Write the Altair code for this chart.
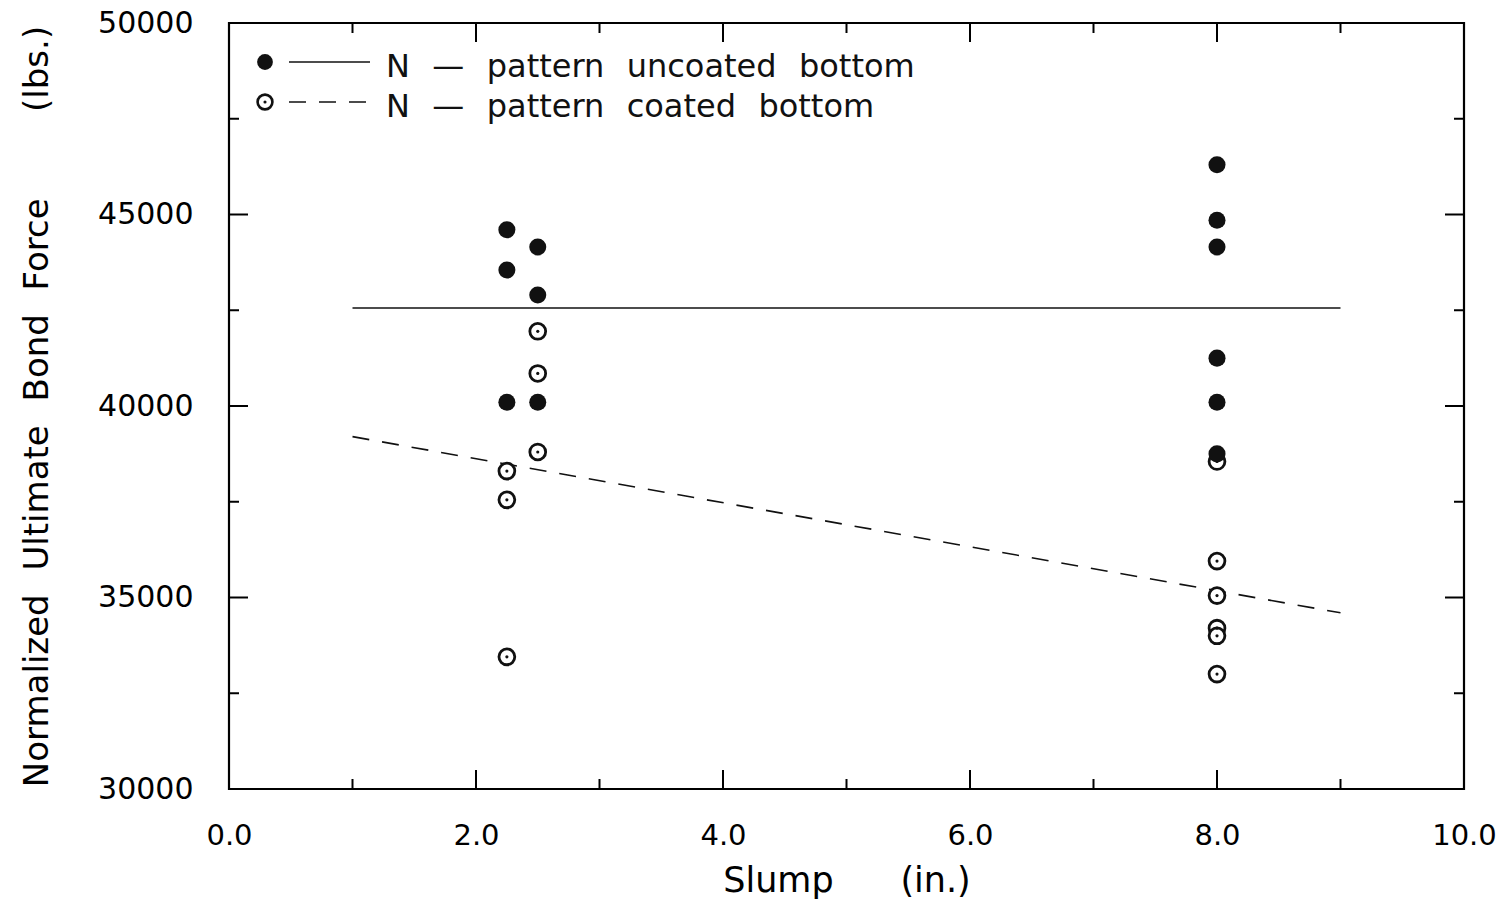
import altair as alt
import pandas as pd

# ---- data ----
slump_uncoated = [2.25, 2.25, 2.25, 2.5, 2.5, 2.5, 8.0, 8.0, 8.0, 8.0, 8.0, 8.0]
force_uncoated = [44600, 43550, 40100, 44150, 42900, 40100, 46300, 44850, 44150, 41250, 40100, 38750]
slump_coated = [2.25, 2.25, 2.25, 2.5, 2.5, 2.5, 8.0, 8.0, 8.0, 8.0, 8.0, 8.0]
force_coated = [38300, 37550, 33450, 41950, 40850, 38800, 38550, 35950, 35050, 34200, 34000, 33000]
fit_slump = [1.0, 9.0]
fit_uncoated = [42560, 42560]
fit_coated = [39200, 34600]
x_tick_values = [0, 2, 4, 6, 8, 10]
x_minor_ticks = [1, 3, 5, 7, 9]
x_major_ticks = [2, 4, 6, 8]
y_tick_values = [30000, 35000, 40000, 45000, 50000]
y_major_ticks = [35000, 40000, 45000]
y_minor_ticks = [32500, 37500, 42500, 47500]
GAP = "\u2002\u2009"
legend_labels = ["N" + GAP + "\u2014" + GAP + "pattern" + GAP + "uncoated" + GAP + "bottom",
                 "N" + GAP + "\u2014" + GAP + "pattern" + GAP + "coated" + GAP + "bottom"]

FONT = "DejaVu Sans"
W, H = 1235, 766
MAJ, MIN = 19, 10

x_title = "Slump" + "\u00a0" * 6 + "(in.)"
y_title = "Normalized" + GAP + "Ultimate" + GAP + "Bond" + GAP + "Force" + "\u00a0" * 8 + "(lbs.)"

xscale = alt.Scale(domain=[0, 10], nice=False, zero=False)
yscale = alt.Scale(domain=[30000, 50000], nice=False, zero=False)

xaxis = alt.Axis(values=x_tick_values, format=".1f", title=x_title, grid=False,
                 domain=False, ticks=False, tickSize=0, labelPadding=32, labelFlush=False,
                 labelFont=FONT, labelFontSize=29, labelColor="black",
                 titleFont=FONT, titleFontSize=35, titleFontWeight="normal", titleColor="black",
                 titleX=W / 2, titleY=91, titleBaseline="middle", titleAlign="center")
yaxis = alt.Axis(values=y_tick_values, format="d", title=y_title, grid=False,
                 domain=False, ticks=False, tickSize=0, labelPadding=36, labelFlush=False,
                 labelFont=FONT, labelFontSize=30, labelColor="black",
                 titleFont=FONT, titleFontSize=34, titleFontWeight="normal", titleColor="black",
                 titleX=-192, titleY=H / 2, titleBaseline="middle", titleAlign="center",
                 titleAngle=270)


def X(field):
    return alt.X(f"{field}:Q", scale=xscale, axis=xaxis)


def Y(field):
    return alt.Y(f"{field}:Q", scale=yscale, axis=yaxis)


unc = pd.DataFrame({"slump": slump_uncoated, "force": force_uncoated})
coa = pd.DataFrame({"slump": slump_coated, "force": force_coated})
fit = pd.DataFrame({"slump": fit_slump, "unc": fit_uncoated, "coa": fit_coated})

FILLED_SIZE = 290
OPEN_SIZE = 250

filled = alt.Chart(unc).mark_point(filled=True, shape="circle", size=FILLED_SIZE, color="#111111", opacity=1).encode(
    x=X("slump"), y=Y("force"))
open_c = alt.Chart(coa).mark_point(filled=False, shape="circle", size=OPEN_SIZE, color="#111111",
                                    strokeWidth=2.8, fill="white", fillOpacity=1, opacity=1).encode(
    x=X("slump"), y=Y("force"))
open_dot = alt.Chart(coa).mark_point(filled=True, shape="circle", size=10, color="#111111", opacity=1).encode(
    x=X("slump"), y=Y("force"))

line_unc = alt.Chart(fit).mark_line(color="#111111", strokeWidth=1.6).encode(x=X("slump"), y=Y("unc"))
line_coa = alt.Chart(fit).mark_line(color="#111111", strokeWidth=1.6, strokeDash=[17, 13]).encode(
    x=X("slump"), y=Y("coa"))

# ---- inward tick marks on all four sides ----
xmaj = pd.DataFrame({"t": x_major_ticks})
xmin = pd.DataFrame({"t": x_minor_ticks})
ymaj = pd.DataFrame({"t": y_major_ticks})
ymin = pd.DataFrame({"t": y_minor_ticks})

tick_layers = []
for df, L in [(xmaj, MAJ), (xmin, MIN)]:
    tick_layers.append(alt.Chart(df).mark_rule(color="black", strokeWidth=2).encode(
        x=X("t"), y=alt.value(H), y2=alt.value(H - L)))
    tick_layers.append(alt.Chart(df).mark_rule(color="black", strokeWidth=2).encode(
        x=X("t"), y=alt.value(0), y2=alt.value(L)))
for df, L in [(ymaj, MAJ), (ymin, MIN)]:
    tick_layers.append(alt.Chart(df).mark_rule(color="black", strokeWidth=2).encode(
        y=Y("t"), x=alt.value(0), x2=alt.value(L)))
    tick_layers.append(alt.Chart(df).mark_rule(color="black", strokeWidth=2).encode(
        y=Y("t"), x=alt.value(W), x2=alt.value(W - L)))

# ---- in-plot legend ----
one = pd.DataFrame({"k": [0]})
leg_pt1 = alt.Chart(one).mark_point(filled=True, shape="circle", size=FILLED_SIZE - 40, color="#111111", opacity=1).encode(
    x=alt.value(36), y=alt.value(39))
leg_pt2 = alt.Chart(one).mark_point(filled=False, shape="circle", size=OPEN_SIZE - 30, color="#111111",
                                     strokeWidth=2.6, opacity=1).encode(x=alt.value(36), y=alt.value(79))
leg_dot2 = alt.Chart(one).mark_point(filled=True, shape="circle", size=10, color="#111111", opacity=1).encode(
    x=alt.value(36), y=alt.value(79))
leg_l1 = alt.Chart(one).mark_rule(color="#111111", strokeWidth=1.6).encode(
    x=alt.value(60), x2=alt.value(141), y=alt.value(39))
leg_l2 = alt.Chart(one).mark_rule(color="#111111", strokeWidth=1.6, strokeDash=[17, 13]).encode(
    x=alt.value(60), x2=alt.value(141), y=alt.value(79))
leg_t1 = alt.Chart(one).mark_text(align="left", baseline="alphabetic", font=FONT, fontSize=32,
                                   color="#111111").encode(
    x=alt.value(157), y=alt.value(54), text=alt.value(legend_labels[0]))
leg_t2 = alt.Chart(one).mark_text(align="left", baseline="alphabetic", font=FONT, fontSize=32,
                                   color="#111111").encode(
    x=alt.value(157), y=alt.value(94), text=alt.value(legend_labels[1]))

chart = alt.layer(
    line_unc, line_coa, open_c, open_dot, filled, *tick_layers,
    leg_l1, leg_l2, leg_pt1, leg_pt2, leg_dot2, leg_t1, leg_t2
).properties(
    width=W, height=H,
    autosize=alt.AutoSizeParams(type="none"),
    padding={"left": 229, "top": 23, "right": 43, "bottom": 120},
    background="white",
).configure_view(stroke="black", strokeWidth=2.2)

chart.save("out.html", embed_options={"renderer": "svg", "actions": False})
